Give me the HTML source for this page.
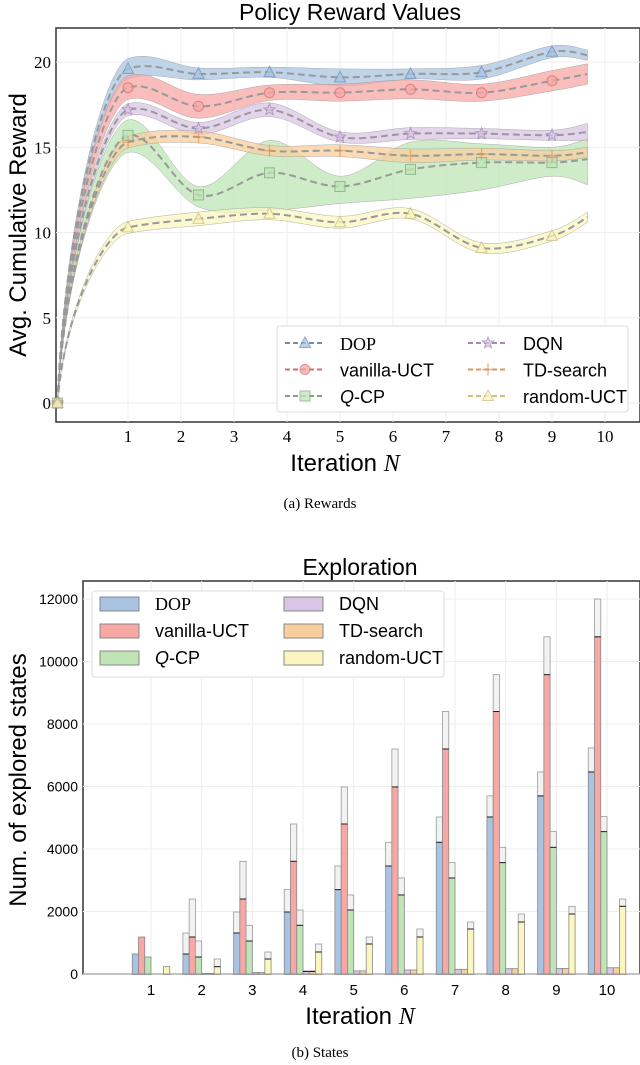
<!DOCTYPE html>
<html><head><meta charset="utf-8"><style>
body{margin:0;background:#fff;width:640px;height:1065px;overflow:hidden}
svg{display:block}
.sans{font-family:"Liberation Sans",sans-serif}
.serif{font-family:"Liberation Serif",serif}
</style></head><body>
<svg id="s" width="640" height="1065">
<text x="350" y="20" text-anchor="middle" font-size="23" class="sans">Policy Reward Values</text>
<rect x="56" y="28" width="584" height="394" fill="#fff" stroke="#333" stroke-width="1.5"/>
<g id="g1"></g>
<text transform="translate(26,225) rotate(-90)" text-anchor="middle" font-size="24" class="sans">Avg. Cumulative Reward</text>
<text x="345" y="471" text-anchor="middle" font-size="24" class="sans">Iteration <tspan class="serif" font-style="italic">N</tspan></text>
<text x="320" y="508" text-anchor="middle" font-size="15" class="serif">(a) Rewards</text>

<text x="360" y="575" text-anchor="middle" font-size="23" class="sans">Exploration</text>
<rect x="83" y="581" width="557" height="393" fill="#fff" stroke="#333" stroke-width="1.5"/>
<g id="g2"></g>
<text transform="translate(26,780) rotate(-90)" text-anchor="middle" font-size="24" class="sans">Num. of explored states</text>
<text x="360" y="1024" text-anchor="middle" font-size="24" class="sans">Iteration <tspan class="serif" font-style="italic">N</tspan></text>
<text x="320" y="1057" text-anchor="middle" font-size="15" class="serif">(b) States</text>
</svg>
<script>
// ---------- Rewards data ----------
const xPts = [-0.33, 1, 2.33, 3.67, 5, 6.33, 7.67, 9, 9.67];
const seriesNames = ["DOP","vanilla-UCT","Q-CP","DQN","TD-search","random-UCT"];
const dopMean = [0, 19.6, 19.3, 19.4, 19.1, 19.3, 19.4, 20.6, 20.4];
const dopErr  = [0, 0.6, 0.35, 0.3, 0.5, 0.3, 0.4, 0.35, 0.3];
const ucbMean = [0, 18.5, 17.4, 18.2, 18.2, 18.4, 18.2, 18.9, 19.3];
const ucbErr  = [0, 0.7, 0.7, 0.45, 0.5, 0.55, 0.5, 0.6, 0.6];
const qcpMean = [0, 15.7, 12.2, 13.5, 12.7, 13.7, 14.1, 14.1, 14.3];
const qcpUp   = [0, 16.6, 12.7, 15.4, 13.3, 15.3, 15.2, 15.0, 15.5];
const qcpLo   = [0, 14.7, 11.5, 11.3, 11.7, 12.0, 12.5, 13.3, 12.8];
const dqnMean = [0, 17.2, 16.1, 17.2, 15.6, 15.8, 15.8, 15.7, 15.9];
const dqnErr  = [0, 0.35, 0.35, 0.4, 0.3, 0.35, 0.3, 0.3, 0.5];
const tdMean  = [0, 15.3, 15.6, 14.8, 14.8, 14.5, 14.6, 14.5, 14.7];
const tdErr   = [0, 0.35, 0.35, 0.3, 0.35, 0.4, 0.35, 0.3, 0.3];
const rndMean = [0, 10.3, 10.8, 11.1, 10.6, 11.1, 9.1, 9.8, 10.9];
const rndErr  = [0, 0.35, 0.4, 0.35, 0.35, 0.3, 0.3, 0.3, 0.3];
const yTicks1 = [0,5,10,15,20];
const xTicks = [1,2,3,4,5,6,7,8,9,10];

// ---------- Exploration data ----------
const dopBase = [640,640,1312,1984,2700,3457,4215,5025,5700,6466];
const dopTop  = [640,1312,1984,2700,3457,4215,5025,5700,6466,7234];
const ucbBase = [1184,1184,2400,3606,4800,5986,7200,8400,9580,10790];
const ucbTop  = [1184,2400,3606,4800,5986,7200,8400,9580,10790,12000];
const qcpBase = [544,544,1056,1558,2048,2529,3073,3564,4054,4556];
const qcpTop  = [544,1056,1558,2048,2529,3073,3564,4054,4556,5036];
const dqnBase = [0,20,50,80,100,130,150,170,180,200];
const dqnTop  = [0,20,50,100,100,130,150,170,180,200];
const tdBase  = [0,20,50,80,100,130,150,170,180,200];
const tdTop   = [0,20,50,100,100,130,150,170,180,200];
const rndBase = [235,235,480,704,960,1184,1440,1664,1920,2166];
const rndTop  = [235,480,704,960,1184,1440,1664,1920,2166,2400];
const yTicks2 = [0,2000,4000,6000,8000,10000,12000];

const NS="http://www.w3.org/2000/svg";
function mk(tag,attrs,parent){const e=document.createElementNS(NS,tag);for(const k in attrs)e.setAttribute(k,attrs[k]);parent.appendChild(e);return e;}
const fills=["#a9c4e2","#f7a8a4","#bfe5b7","#d9c6e6","#f8cf9c","#fbf6bf"];
const lines=["#6d8fb5","#d36f6f","#7fa77c","#a58ab5","#d89a5e","#c9c27a"];

// ---------- chart 1 ----------
const g1=document.getElementById('g1');
const X1=v=>75+(v)*53, Y1=v=>403-v*17.05;
xTicks.forEach(t=>{const l=mk('line',{x1:X1(t),x2:X1(t),y1:28,y2:422,stroke:'#eee'},g1);

const tx=mk('text',{x:X1(t),y:442,'text-anchor':'middle','font-size':17,'class':'serif'},g1);tx.textContent=t;
});
yTicks1.forEach(t=>{const l=mk('line',{x1:56,x2:640,y1:Y1(t),y2:Y1(t),stroke:'#eee'},g1);

const tx=mk('text',{x:51,y:Y1(t)+6,'text-anchor':'end','font-size':17,'class':'serif'},g1);tx.textContent=t;
});
function segs(pts){const T=pts.map((p,i)=>{const a=pts[Math.max(i-1,0)],b=pts[Math.min(i+1,pts.length-1)];
 let tx=(b[0]-a[0])/6, ty=(b[1]-a[1])/6; if(i===1){ty*=0.15;} return [tx,ty];});
 T[0]=[(pts[1][0]-pts[0][0])/3*0.3,(pts[1][1]-pts[0][1])/3*1.6];
 const out=[];for(let i=0;i<pts.length-1;i++){const p1=pts[i],p2=pts[i+1];
 out.push([p1,[p1[0]+T[i][0],p1[1]+T[i][1]],[p2[0]-T[i+1][0],p2[1]-T[i+1][1]],p2]);}return out;}
function spline(pts){const s=segs(pts);let d=`M${pts[0][0]},${pts[0][1]}`;
 s.forEach(q=>{d+=` C${q[1][0]},${q[1][1]} ${q[2][0]},${q[2][1]} ${q[3][0]},${q[3][1]}`;});return d;}
function splineRev(pts){const s=segs(pts).reverse();let d=` L${pts[pts.length-1][0]},${pts[pts.length-1][1]}`;
 s.forEach(q=>{d+=` C${q[2][0]},${q[2][1]} ${q[1][0]},${q[1][1]} ${q[0][0]},${q[0][1]}`;});return d;}
const S=[
 {m:dopMean,up:dopMean.map((v,i)=>v+dopErr[i]),lo:dopMean.map((v,i)=>v-dopErr[i]),mk:'tri'},
 {m:ucbMean,up:ucbMean.map((v,i)=>v+ucbErr[i]),lo:ucbMean.map((v,i)=>v-ucbErr[i]),mk:'circ'},
 {m:qcpMean,up:qcpUp,lo:qcpLo,mk:'sq'},
 {m:dqnMean,up:dqnMean.map((v,i)=>v+dqnErr[i]),lo:dqnMean.map((v,i)=>v-dqnErr[i]),mk:'star'},
 {m:tdMean,up:tdMean.map((v,i)=>v+tdErr[i]),lo:tdMean.map((v,i)=>v-tdErr[i]),mk:'plus'},
 {m:rndMean,up:rndMean.map((v,i)=>v+rndErr[i]),lo:rndMean.map((v,i)=>v-rndErr[i]),mk:'tri'}];
function marker(type,x,y,i,par){let e;
 if(type==='tri')e=mk('polygon',{points:`${x},${y-6} ${x-5.5},${y+4.5} ${x+5.5},${y+4.5}`},par);
 else if(type==='circ')e=mk('circle',{cx:x,cy:y,r:5},par);
 else if(type==='sq')e=mk('rect',{x:x-5,y:y-5,width:10,height:10},par);
 else if(type==='star'){let p=[];for(let k=0;k<10;k++){const r=k%2?2.6:6,a=-Math.PI/2+k*Math.PI/5;p.push((x+r*Math.cos(a)).toFixed(1)+','+(y+r*Math.sin(a)).toFixed(1));}e=mk('polygon',{points:p.join(' ')},par);}
 else e=mk('path',{d:`M${x-6},${y}H${x+6}M${x},${y-6}V${y+6}`,'stroke-width':1.3},par);
 e.setAttribute('fill',type==='plus'?'none':fills[i]);e.setAttribute('stroke',lines[i]);e.setAttribute('opacity','0.75');return e;}
S.forEach((s,i)=>{
 const up=xPts.map((x,j)=>[X1(x),Y1(s.up[j])]), lo=xPts.map((x,j)=>[X1(x),Y1(s.lo[j])]);
 const b=mk('path',{d:spline(up)+splineRev(lo)+'Z',fill:fills[i],'fill-opacity':0.75,stroke:'#999','stroke-width':0.4},g1);
 
});
S.forEach((s,i)=>{
 const pts=xPts.map((x,j)=>[X1(x),Y1(s.m[j])]);
 const l=mk('path',{d:spline(pts),fill:'none',stroke:'#999','stroke-width':2,'stroke-dasharray':'7,4'},g1);
 
 for(let j=0;j<xPts.length-1;j++){const m=marker(s.mk,pts[j][0],pts[j][1],i,g1);
  }
});
// legend 1
const lg1=mk('g',{},g1);
mk('rect',{x:277,y:326,width:351,height:86,rx:3,fill:'#fff','fill-opacity':0.9,stroke:'#ddd'},lg1);
const legLab=["DOP","vanilla-UCT","Q-CP","DQN","TD-search","random-UCT"];
const legOrder=[0,1,2,3,4,5];
legOrder.forEach((i,k)=>{const col=k<3?0:1,row=k%3;const x=285+col*183,y=343+row*26.5;
 const l=mk('line',{x1:x,x2:x+40,y1:y,y2:y,stroke:lines[i],'stroke-width':2,'stroke-dasharray':'5,3'},lg1);
 
 marker(S[i].mk,x+20,y,i,lg1);
 const t=mk('text',{x:x+55,y:y+7,'font-size':18,'class':i===0?'serif':'sans'},lg1);
 if(i===2){t.innerHTML='<tspan font-style="italic">Q</tspan>-CP';}else t.textContent=legLab[i];
 });

// ---------- chart 2 ----------
const g2=document.getElementById('g2');
const X2=v=>151+(v-1)*50.67, Y2=v=>974-v*0.03125;
xTicks.forEach(t=>{const l=mk('line',{x1:X2(t),x2:X2(t),y1:581,y2:974,stroke:'#eee'},g2);

const tx=mk('text',{x:X2(t),y:995,'text-anchor':'middle','font-size':15,'class':'sans'},g2);tx.textContent=t;
});
yTicks2.forEach(t=>{const l=mk('line',{x1:83,x2:640,y1:Y2(t),y2:Y2(t),stroke:'#eee'},g2);

const tx=mk('text',{x:78,y:Y2(t)+5,'text-anchor':'end','font-size':14,'class':'sans'},g2);tx.textContent=t;
});
const bases=[dopBase,ucbBase,qcpBase,dqnBase,tdBase,rndBase], tops=[dopTop,ucbTop,qcpTop,dqnTop,tdTop,rndTop];
const bw=6.25;
xTicks.forEach((t,j)=>{for(let i=0;i<6;i++){const x=X2(t)-3*bw+i*bw;
 const b=mk('rect',{x:x,y:Y2(bases[i][j]),width:bw,height:Math.max(0,974-Y2(bases[i][j])),fill:fills[i],stroke:'#888','stroke-width':0.8},g2);
 
 if(tops[i][j]>bases[i][j]){const e=mk('rect',{x:x,y:Y2(tops[i][j]),width:bw,height:Y2(bases[i][j])-Y2(tops[i][j]),fill:'#f2f2f2',stroke:'#999','stroke-width':0.8},g2);
  
  mk('line',{x1:x,x2:x+bw,y1:Y2(bases[i][j]),y2:Y2(bases[i][j]),stroke:'#222','stroke-width':1},g2);}
}});
const lg2=mk('g',{},g2);
mk('rect',{x:92,y:591,width:352,height:86,rx:3,fill:'#fff','fill-opacity':0.9,stroke:'#ddd'},lg2);
legOrder.forEach((i,k)=>{const col=k<3?0:1,row=k%3;const x=100+col*184,y=597+row*27;
 const r=mk('rect',{x:x,y:y,width:39,height:14,fill:fills[i],stroke:'#888'},lg2);
 
 const t=mk('text',{x:x+55,y:y+13,'font-size':18,'class':i===0?'serif':'sans'},lg2);
 if(i===2){t.innerHTML='<tspan font-style="italic">Q</tspan>-CP';}else t.textContent=legLab[i];
 });
</script>
</body></html>
